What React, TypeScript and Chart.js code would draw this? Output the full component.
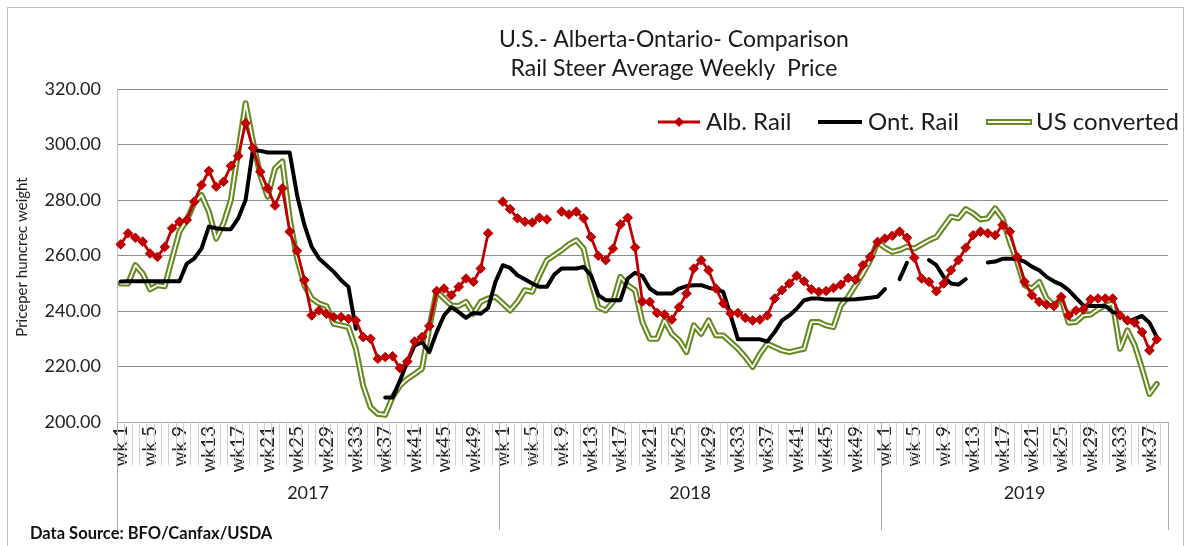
import React, { useEffect, useRef } from 'react';
import { Chart, registerables } from 'chart.js';

Chart.register(...registerables);

const years = ['2017', '2018', '2019'];
const weeksPerYear = [52, 52, 39];
const weekLabels: string[] = [];
weeksPerYear.forEach((n) => {
  for (let w = 1; w <= n; w++) weekLabels.push('wk' + (w < 10 ? ' ' + w : String(w)));
});

const yMin = 200;
const yMax = 320;
const yStep = 20;

const titleLines = ['U.S.- Alberta-Ontario- Comparison', 'Rail Steer Average Weekly  Price'];
const yAxisTitle = 'Priceper huncrec weight';
const sourceNote = 'Data Source: BFO/Canfax/USDA';

const albRail: (number | null)[] = [
  264.0, 268.0, 266.4, 265.0, 260.7, 259.5, 263.1, 269.8, 272.2, 272.8,
  279.4, 285.4, 290.5, 284.8, 286.6, 292.3, 295.9, 307.7, 298.7, 290.2,
  284.2, 278.0, 284.2, 268.6, 261.7, 251.1, 238.4, 240.2, 239.0, 237.8,
  237.8, 237.2, 236.6, 230.6, 230.0, 222.8, 223.4, 223.7, 219.4, 221.8,
  229.0, 230.6, 234.6, 247.2, 248.1, 245.7, 248.7, 251.7, 250.5, 255.3,
  268.0, null,
  279.4, 276.7, 273.4, 272.2, 271.9, 273.6, 273.0, null, 275.8, 274.8,
  275.8, 273.4, 266.7, 259.9, 258.3, 262.5, 271.2, 273.6, 262.9, 243.4,
  243.3, 239.3, 238.7, 236.9, 241.4, 246.3, 255.3, 258.3, 254.7, 248.1,
  242.7, 239.1, 239.3, 237.5, 236.6, 236.9, 238.4, 244.5, 247.5, 249.9,
  252.7, 250.7, 247.8, 246.9, 247.2, 248.3, 249.5, 251.9, 251.3, 256.5,
  259.5, 264.9,
  266.1, 267.1, 268.6, 266.4, 259.2, 251.7, 250.5, 247.1, 249.9, 254.7,
  258.3, 262.8, 267.3, 268.6, 268.0, 267.3, 271.0, 268.6, 259.5, 250.5,
  245.7, 243.3, 242.3, 241.8, 245.1, 238.4, 240.2, 240.6, 244.2, 244.5,
  244.5, 244.5, 238.4, 236.6, 235.8, 232.4, 225.8, 229.8, null,
];

const ontRail: (number | null)[] = [
  250.6, 250.7, 250.7, 250.7, 250.7, 250.7, 250.7, 250.7, 250.7, 257.1,
  258.9, 262.5, 270.4, 269.8, 269.5, 269.5, 273.4, 280.0, 298.1, 297.7,
  297.1, 297.1, 297.1, 297.1, 281.8, 271.0, 263.1, 258.9, 256.5, 254.1,
  251.1, 248.7, 233.6, null, null, null, 208.8, 208.8, 214.9, 221.6,
  227.6, 228.8, 225.2, 232.4, 238.4, 241.4, 239.6, 237.5, 239.4, 239.0,
  241.1, 250.5,
  256.5, 255.5, 252.9, 251.4, 249.9, 248.7, 248.7, 253.1, 255.3, 255.3,
  255.3, 255.9, 252.9, 245.7, 243.9, 243.9, 243.9, 251.7, 253.8, 252.6,
  248.1, 246.3, 246.3, 246.3, 248.1, 249.0, 249.3, 249.3, 248.4, 247.8,
  246.9, 238.4, 229.8, 229.8, 229.8, 229.8, 229.0, 232.4, 236.6, 238.4,
  240.8, 243.9, 244.5, 244.5, 244.1, 244.1, 244.1, 244.1, 244.2, 244.5,
  244.8, 245.1,
  247.9, null, 251.5, 257.4, null, null, 258.3, 256.5, 252.3, 249.9,
  249.5, 251.5, null, null, 257.5, 257.8, 258.8, 258.8, 258.8, 257.8,
  256.0, 254.7, 252.3, 250.7, 249.5, 247.5, 244.7, 242.0, 241.8, 241.8,
  241.8, 239.6, 239.0, 236.0, 237.2, 238.2, 235.8, 230.6, null,
];

const usConverted: (number | null)[] = [
  249.9, 249.9, 256.5, 253.5, 247.8, 249.3, 248.9, 258.9, 268.6, 272.8,
  278.8, 281.8, 275.8, 266.1, 271.6, 280.0, 297.5, 314.9, 301.1, 289.0,
  281.2, 291.4, 293.9, 273.4, 258.9, 249.3, 244.5, 242.7, 241.8, 235.4,
  234.8, 234.2, 226.4, 213.1, 205.3, 202.9, 202.6, 209.0, 213.1, 215.5,
  217.3, 219.2, 234.0, 247.1, 244.5, 242.0, 241.8, 243.3, 239.0, 243.3,
  244.5, 245.1,
  242.7, 240.2, 243.3, 247.5, 246.9, 252.9, 258.3, 260.1, 261.9, 264.0,
  265.5, 262.5, 250.5, 241.4, 240.2, 243.3, 252.3, 249.3, 247.5, 236.0,
  230.0, 230.0, 236.6, 231.8, 229.4, 225.2, 234.8, 231.8, 236.6, 231.2,
  231.2, 228.8, 226.4, 223.4, 219.8, 224.6, 228.2, 227.0, 225.8, 225.2,
  225.8, 226.4, 236.0, 236.0, 234.8, 234.2, 242.0, 245.1, 249.3, 253.5,
  258.3, 264.9,
  262.8, 261.3, 262.0, 263.2, 262.5, 264.0, 265.5, 266.7, 270.4, 274.0,
  273.4, 276.7, 275.2, 273.0, 273.4, 277.0, 273.4, 264.9, 257.7, 249.3,
  248.1, 250.5, 244.5, 242.0, 244.5, 235.8, 236.0, 238.4, 238.7, 240.6,
  242.0, 242.7, 226.4, 233.0, 227.6, 219.2, 210.1, 213.7, null,
];

const RED = '#c00000';
const OLIVE = '#678a22';
const FONT = 'Lato';

const overlayPlugin = {
  id: 'overlay',
  afterDraw(chart: any) {
    const { ctx, chartArea, scales } = chart;
    const xs = scales.x;
    const bottom = chartArea.bottom;
    const half = (xs.getPixelForValue(1) - xs.getPixelForValue(0)) / 2;
    ctx.save();

    // category tick marks
    ctx.lineWidth = 1;
    ctx.strokeStyle = '#cfcfcf';
    for (let i = 1; i < weekLabels.length; i++) {
      const px = Math.round(xs.getPixelForValue(i) - half) + 0.5;
      ctx.beginPath();
      ctx.moveTo(px, bottom);
      ctx.lineTo(px, bottom + 43);
      ctx.stroke();
    }

    // year separators and labels
    let start = 0;
    ctx.strokeStyle = '#a8a8a8';
    ctx.fillStyle = '#222';
    ctx.font = `18px ${FONT}`;
    ctx.textAlign = 'center';
    ctx.textBaseline = 'middle';
    years.forEach((yr, k) => {
      const n = weeksPerYear[k];
      const left = xs.getPixelForValue(start) - half;
      const right = xs.getPixelForValue(start + n - 1) + half;
      [left, right].forEach((p) => {
        const px = Math.round(p) + 0.5;
        ctx.beginPath();
        ctx.moveTo(px, bottom);
        ctx.lineTo(px, 530);
        ctx.stroke();
      });
      ctx.fillText(yr, (left + right) / 2, 493);
      start += n;
    });

    // titles
    ctx.fillStyle = '#1a1a1a';
    ctx.font = `23px ${FONT}`;
    ctx.fillText(titleLines[0], 674, 40);
    ctx.fillText(titleLines[1], 674, 69);

    // y axis title
    ctx.save();
    ctx.translate(22, 257);
    ctx.rotate(-Math.PI / 2);
    ctx.font = `15px ${FONT}`;
    ctx.fillStyle = '#222';
    ctx.fillText(yAxisTitle, 0, 0);
    ctx.restore();

    // source note
    ctx.textAlign = 'left';
    ctx.font = `bold 16.5px ${FONT}`;
    ctx.fillStyle = '#111';
    ctx.fillText(sourceNote, 30, 534);

    // legend
    const ly = 122;
    ctx.font = `24px ${FONT}`;
    ctx.fillStyle = '#1a1a1a';
    ctx.lineCap = 'butt';
    // Alb. Rail
    ctx.strokeStyle = RED;
    ctx.lineWidth = 3;
    ctx.beginPath();
    ctx.moveTo(658, ly);
    ctx.lineTo(700, ly);
    ctx.stroke();
    ctx.fillStyle = RED;
    ctx.beginPath();
    ctx.moveTo(679, ly - 5);
    ctx.lineTo(684, ly);
    ctx.lineTo(679, ly + 5);
    ctx.lineTo(674, ly);
    ctx.closePath();
    ctx.fill();
    ctx.fillStyle = '#1a1a1a';
    ctx.fillText('Alb. Rail', 706, ly);
    // Ont. Rail
    ctx.strokeStyle = '#000';
    ctx.lineWidth = 4;
    ctx.beginPath();
    ctx.moveTo(818, ly);
    ctx.lineTo(862, ly);
    ctx.stroke();
    ctx.fillText('Ont. Rail', 868, ly);
    // US converted
    ctx.strokeStyle = OLIVE;
    ctx.lineWidth = 6;
    ctx.beginPath();
    ctx.moveTo(986, ly);
    ctx.lineTo(1032, ly);
    ctx.stroke();
    ctx.strokeStyle = '#fff';
    ctx.lineWidth = 2;
    ctx.beginPath();
    ctx.moveTo(988, ly);
    ctx.lineTo(1030, ly);
    ctx.stroke();
    ctx.fillText('US converted', 1036, ly);

    // outer border
    ctx.strokeStyle = '#bfbfbf';
    ctx.lineWidth = 1;
    ctx.strokeRect(7.5, 7.5, 1176, 560);
    ctx.restore();
  },
};

export default function App() {
  const ref = useRef<HTMLCanvasElement>(null);
  useEffect(() => {
    document.body.style.margin = '0';
    const canvas = ref.current;
    if (!canvas) return;
    const chart = new Chart(canvas, {
      type: 'line',
      data: {
        labels: weekLabels,
        datasets: [
          {
            label: 'Alb. Rail',
            data: albRail,
            borderColor: RED,
            backgroundColor: RED,
            borderWidth: 2.8,
            pointStyle: 'rectRot',
            pointRadius: 4.8,
            pointBorderWidth: 1,
            pointBorderColor: RED,
            pointBackgroundColor: RED,
            order: 1,
          },
          {
            label: 'Ont. Rail',
            data: ontRail,
            borderColor: '#000',
            borderWidth: 4,
            pointRadius: 0,
            order: 2,
          },
          {
            label: 'US converted',
            data: usConverted,
            borderColor: '#ffffff',
            borderWidth: 1.8,
            pointRadius: 0,
            order: 3,
          },
          {
            label: 'US converted outline',
            data: usConverted,
            borderColor: OLIVE,
            borderWidth: 6,
            pointRadius: 0,
            order: 4,
          },
        ],
      },
      options: {
        responsive: false,
        animation: false,
        devicePixelRatio: 1,
        spanGaps: false,
        layout: { padding: { left: 0, right: 15, top: 89, bottom: 0 } },
        elements: { line: { tension: 0, borderJoinStyle: 'round', borderCapStyle: 'round' } },
        plugins: { legend: { display: false }, title: { display: false }, tooltip: { enabled: false } },
        scales: {
          x: {
            type: 'category',
            offset: true,
            grid: { display: false, drawTicks: false },
            border: { display: true, color: '#a6a6a6' },
            ticks: {
              autoSkip: false,
              minRotation: 90,
              maxRotation: 90,
              padding: 4,
              color: '#222',
              font: { family: FONT, size: 19 },
              callback: (_v: any, i: number) => (i % 4 === 0 ? weekLabels[i] : ''),
            },
            afterFit: (s: any) => { s.height = 124; },
          },
          y: {
            min: yMin,
            max: yMax,
            grid: { color: '#8c8c8c', drawTicks: false },
            border: { display: true, color: '#bfbfbf' },
            ticks: {
              stepSize: yStep,
              padding: 16,
              color: '#222',
              font: { family: FONT, size: 18 },
              callback: (v: any) => Number(v).toFixed(2),
            },
            afterFit: (s: any) => { s.width = 117; },
          },
        },
      },
      plugins: [overlayPlugin],
    } as any);
    return () => chart.destroy();
  }, []);
  return (
    <div style={{ position: 'absolute', left: 0, top: 0, width: 1191, height: 546, background: '#fff' }}>
      <canvas ref={ref} width={1191} height={546} style={{ display: 'block', width: 1191, height: 546 }} />
    </div>
  );
}
